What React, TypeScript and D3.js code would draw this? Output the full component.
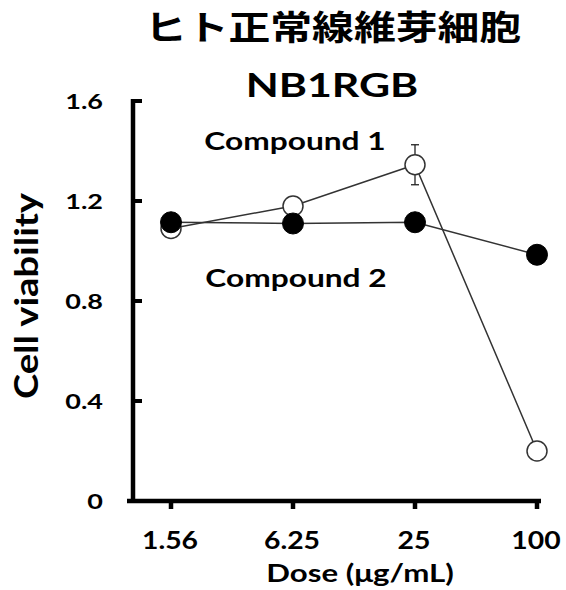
import React from "react";
import * as d3 from "d3";

const doses = ["1.56", "6.25", "25", "100"];
const compound1 = [1.09, 1.18, 1.345, 0.2];
const compound1Err = [0, 0, 0.08, 0];
const compound2 = [1.115, 1.11, 1.115, 0.985];
const yTicks = [0, 0.4, 0.8, 1.2, 1.6];
const yTickLabels = ["0", "0.4", "0.8", "1.2", "1.6"];
const titleLines = ["ヒト正常線維芽細胞", "NB1RGB"];

const FONT = "Lato, 'Noto Sans', sans-serif";
const JP = "'Noto Sans CJK JP', sans-serif";

function SText({
  x,
  y,
  sx,
  size,
  anchor = "middle",
  family = FONT,
  rotate = 0,
  children,
}: {
  x: number;
  y: number;
  sx: number;
  size: number;
  anchor?: string;
  family?: string;
  rotate?: number;
  children: React.ReactNode;
}) {
  return (
    <text
      transform={`translate(${x},${y}) rotate(${rotate}) scale(${sx},1)`}
      textAnchor={anchor}
      fontFamily={family}
      fontWeight="bold"
      fontSize={size}
      fill="#000"
    >
      {children}
    </text>
  );
}

export default function App() {
  const x = d3.scalePoint<string>().domain(doses).range([171, 537]);
  const y = d3.scaleLinear().domain([0, 1.6]).range([501, 101]);
  const line = d3
    .line<number>()
    .x((_, i) => x(doses[i]) as number)
    .y((d) => y(d));
  const axisX = 133;
  const axisY = 501;
  return (
    <svg width={566} height={590} style={{ position: "absolute", left: 0, top: 0 }}>
      <rect width={566} height={590} fill="#fff" />
      <SText x={333} y={40} sx={1.23} size={34} family={JP}>
        {titleLines[0]}
      </SText>
      <SText x={332} y={97} sx={1.3} size={33}>
        {titleLines[1]}
      </SText>
      {/* axes */}
      <line x1={axisX} x2={axisX} y1={y(1.6) - 2} y2={axisY + 2} stroke="#000" strokeWidth={4.5} />
      <line x1={127} x2={541} y1={axisY} y2={axisY} stroke="#000" strokeWidth={4.5} />
      {yTicks.slice(1).map((t) => (
        <line key={t} x1={axisX} x2={142} y1={y(t)} y2={y(t)} stroke="#000" strokeWidth={4} />
      ))}
      {yTicks.map((t, i) => (
        <SText key={"l" + t} x={103} y={y(t) + 8} sx={1.35} size={20} anchor="end">
          {yTickLabels[i]}
        </SText>
      ))}
      {doses.map((d) => (
        <line key={d} x1={x(d)} x2={x(d)} y1={axisY} y2={509} stroke="#000" strokeWidth={4.5} />
      ))}
      {doses.map((d) => (
        <SText key={"x" + d} x={(x(d) as number) - 1} y={549} sx={1.18} size={24}>
          {d}
        </SText>
      ))}
      <SText x={360} y={582} sx={1.3} size={24}>
        Dose (μg/mL)
      </SText>
      <SText x={38} y={296} sx={1.19} size={32} rotate={-90}>
        Cell viability
      </SText>
      {/* series lines */}
      <path d={line(compound2) || ""} fill="none" stroke="#333" strokeWidth={1.5} />
      <path d={line(compound1) || ""} fill="none" stroke="#333" strokeWidth={1.5} />
      {/* error bars */}
      {compound1.map((v, i) =>
        compound1Err[i] > 0 ? (
          <g key={"e" + i} stroke="#222" strokeWidth={1.3}>
            <line x1={x(doses[i])} x2={x(doses[i])} y1={y(v + compound1Err[i])} y2={y(v - compound1Err[i])} />
            <line x1={(x(doses[i]) as number) - 4} x2={(x(doses[i]) as number) + 4} y1={y(v + compound1Err[i])} y2={y(v + compound1Err[i])} />
            <line x1={(x(doses[i]) as number) - 4} x2={(x(doses[i]) as number) + 4} y1={y(v - compound1Err[i])} y2={y(v - compound1Err[i])} />
          </g>
        ) : null
      )}
      {compound1.map((v, i) => (
        <circle key={"c1" + i} cx={x(doses[i])} cy={y(v)} r={10} fill="#fff" stroke="#333" strokeWidth={1.5} />
      ))}
      {compound2.map((v, i) => (
        <circle key={"c2" + i} cx={x(doses[i])} cy={y(v)} r={10.5} fill="#000" stroke="#000" strokeWidth={1} />
      ))}
      <SText x={295} y={150} sx={1.32} size={24}>
        Compound 1
      </SText>
      <SText x={296} y={287} sx={1.32} size={24}>
        Compound 2
      </SText>
    </svg>
  );
}
